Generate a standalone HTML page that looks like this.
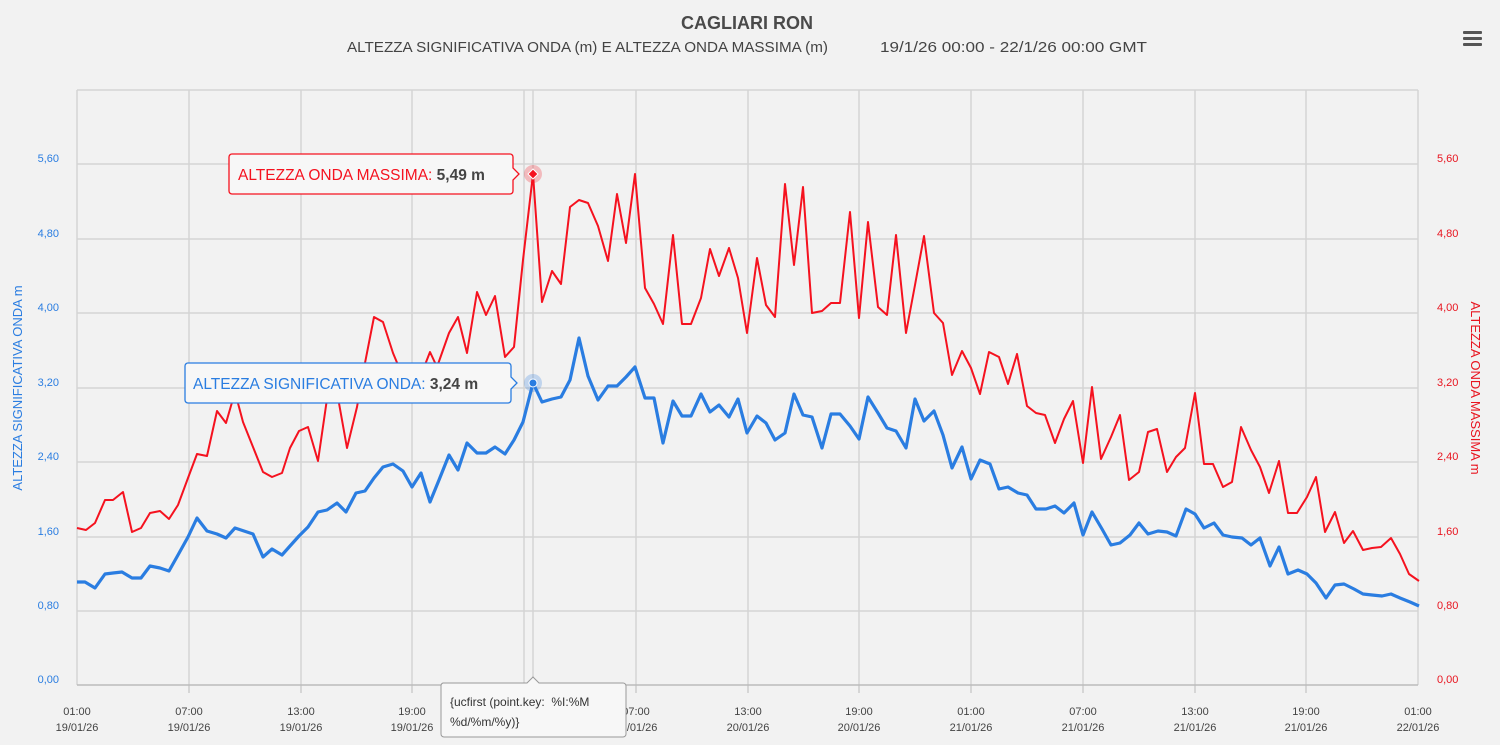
<!DOCTYPE html>
<html><head><meta charset="utf-8"><style>
body{margin:0;background:#f2f2f2;}
svg{display:block;font-family:"Liberation Sans",sans-serif;}
</style></head><body>
<svg width="1500" height="745" viewBox="0 0 1500 745">
<rect width="1500" height="745" fill="#f2f2f2"/>
<text x="747" y="29" text-anchor="middle" font-size="18" font-weight="bold" fill="#4a4a4a">CAGLIARI RON</text>
<text x="347" y="52" font-size="14.5" fill="#444" textLength="481" lengthAdjust="spacingAndGlyphs">ALTEZZA SIGNIFICATIVA ONDA (m) E ALTEZZA ONDA MASSIMA (m)</text>
<text x="880" y="52" font-size="14.5" fill="#444" textLength="267" lengthAdjust="spacingAndGlyphs">19/1/26 00:00 - 22/1/26 00:00 GMT</text>
<g fill="#555"><rect x="1463" y="31" width="19" height="3" rx="1"/><rect x="1463" y="37" width="19" height="3" rx="1"/><rect x="1463" y="43" width="19" height="3" rx="1"/></g>
<g stroke="#d4d4d4" stroke-width="1.5">
<line x1="77" y1="90" x2="1418" y2="90"/><line x1="77" y1="164" x2="1418" y2="164"/><line x1="77" y1="239" x2="1418" y2="239"/><line x1="77" y1="313" x2="1418" y2="313"/><line x1="77" y1="388" x2="1418" y2="388"/><line x1="77" y1="462" x2="1418" y2="462"/><line x1="77" y1="537" x2="1418" y2="537"/><line x1="77" y1="611" x2="1418" y2="611"/>
<line x1="77" y1="90" x2="77" y2="685"/><line x1="189" y1="90" x2="189" y2="685"/><line x1="301" y1="90" x2="301" y2="685"/><line x1="412" y1="90" x2="412" y2="685"/><line x1="524" y1="90" x2="524" y2="685"/><line x1="636" y1="90" x2="636" y2="685"/><line x1="748" y1="90" x2="748" y2="685"/><line x1="859" y1="90" x2="859" y2="685"/><line x1="971" y1="90" x2="971" y2="685"/><line x1="1083" y1="90" x2="1083" y2="685"/><line x1="1195" y1="90" x2="1195" y2="685"/><line x1="1306" y1="90" x2="1306" y2="685"/><line x1="1418" y1="90" x2="1418" y2="685"/>
<line x1="533" y1="90" x2="533" y2="685"/>
</g>
<line x1="77" y1="685" x2="1418" y2="685" stroke="#bbb" stroke-width="1.5"/>
<g font-size="11" fill="#2a7de1" text-anchor="end">
<text x="59" y="683">0,00</text><text x="59" y="609">0,80</text><text x="59" y="535">1,60</text><text x="59" y="460">2,40</text><text x="59" y="386">3,20</text><text x="59" y="311">4,00</text><text x="59" y="237">4,80</text><text x="59" y="162">5,60</text>
</g>
<g font-size="11" fill="#e8141f">
<text x="1437" y="683">0,00</text><text x="1437" y="609">0,80</text><text x="1437" y="535">1,60</text><text x="1437" y="460">2,40</text><text x="1437" y="386">3,20</text><text x="1437" y="311">4,00</text><text x="1437" y="237">4,80</text><text x="1437" y="162">5,60</text>
</g>
<text transform="translate(22,388) rotate(-90)" text-anchor="middle" font-size="13" fill="#2a7de1">ALTEZZA SIGNIFICATIVA ONDA m</text>
<text transform="translate(1471,388) rotate(90)" text-anchor="middle" font-size="13" fill="#e8141f">ALTEZZA ONDA MASSIMA m</text>
<g font-size="11" fill="#444" text-anchor="middle">
<text x="77" y="715">01:00</text><text x="77" y="731">19/01/26</text>
<text x="189" y="715">07:00</text><text x="189" y="731">19/01/26</text>
<text x="301" y="715">13:00</text><text x="301" y="731">19/01/26</text>
<text x="412" y="715">19:00</text><text x="412" y="731">19/01/26</text>
<text x="636" y="715">07:00</text><text x="636" y="731">20/01/26</text>
<text x="748" y="715">13:00</text><text x="748" y="731">20/01/26</text>
<text x="859" y="715">19:00</text><text x="859" y="731">20/01/26</text>
<text x="971" y="715">01:00</text><text x="971" y="731">21/01/26</text>
<text x="1083" y="715">07:00</text><text x="1083" y="731">21/01/26</text>
<text x="1195" y="715">13:00</text><text x="1195" y="731">21/01/26</text>
<text x="1306" y="715">19:00</text><text x="1306" y="731">21/01/26</text>
<text x="1418" y="715">01:00</text><text x="1418" y="731">22/01/26</text>
</g>
<g stroke="#bbb"><line x1="189" y1="685" x2="189" y2="693"/><line x1="301" y1="685" x2="301" y2="693"/><line x1="412" y1="685" x2="412" y2="693"/><line x1="524" y1="685" x2="524" y2="693"/><line x1="636" y1="685" x2="636" y2="693"/><line x1="748" y1="685" x2="748" y2="693"/><line x1="859" y1="685" x2="859" y2="693"/><line x1="971" y1="685" x2="971" y2="693"/><line x1="1083" y1="685" x2="1083" y2="693"/><line x1="1195" y1="685" x2="1195" y2="693"/><line x1="1306" y1="685" x2="1306" y2="693"/></g>
<polyline fill="none" stroke="#f5121f" stroke-width="2" stroke-linejoin="round" points="77,528 86,530 95,523 105,500 113,500 123,492 132,532 141,528 150,513 160,511 169,519 178,505 188,478 197,454 207,456 217,411 226,423 235,392 243,422 253,447 263,472 272,477 282,473 290,448 299,431 308,427 318,461 328,392 337,392 347,448 357,407 365,363 374,317 383,322 393,353 403,377 412,372 421,375 430,352 437,367 449,333 458,317 467,353 477,292 486,315 495,296 505,357 514,347 523,260 533,174 542,302 552,271 561,284 570,207 579,200 588,203 598,226 608,261 617,194 626,243 635,174 645,288 654,304 663,324 673,235 682,324 691,324 701,298 710,249 719,276 729,248 738,278 747,333 757,258 766,305 775,317 785,184 794,265 803,187 812,313 822,311 831,303 840,303 850,212 859,318 868,222 878,307 887,315 896,235 906,333 915,285 924,236 934,313 943,323 952,375 962,351 971,368 980,394 989,352 999,357 1008,384 1017,354 1027,406 1036,413 1045,415 1055,443 1064,419 1073,401 1083,463 1092,387 1101,459 1111,437 1120,415 1129,480 1139,472 1148,432 1157,429 1167,472 1176,457 1185,448 1195,393 1204,464 1213,464 1223,487 1232,482 1241,427 1251,450 1260,467 1269,493 1279,461 1288,513 1297,513 1307,497 1316,477 1325,532 1335,512 1344,543 1353,531 1363,550 1372,548 1381,547 1391,538 1400,554 1409,574 1419,581"/>
<polyline fill="none" stroke="#2a7de1" stroke-width="3.2" stroke-linejoin="round" points="77,582 85,582 95,588 105,574 113,573 122,572 132,578 141,578 150,566 160,568 169,571 178,555 188,537 197,518 207,531 217,534 226,538 235,528 244,531 253,534 263,557 272,549 282,555 290,546 299,536 308,527 318,512 327,510 337,503 346,512 356,493 365,491 374,478 383,467 393,464 403,471 412,487 421,473 430,502 439,480 449,455 458,470 467,443 477,453 486,453 495,447 505,454 514,440 523,422 533,383 542,402 552,399 561,397 570,380 579,338 588,376 598,400 608,386 617,386 626,377 635,367 645,398 654,398 663,443 673,401 682,416 691,416 701,394 710,412 719,405 729,417 738,399 747,433 757,416 766,423 775,440 785,433 794,394 803,415 812,417 822,448 831,414 840,414 850,426 859,439 868,397 878,413 887,428 896,431 906,448 915,399 924,421 934,411 943,435 952,468 962,447 971,479 980,460 990,464 999,489 1008,487 1018,493 1027,495 1036,509 1046,509 1055,506 1064,513 1074,503 1083,535 1092,512 1102,529 1111,545 1120,543 1130,535 1139,523 1148,534 1158,531 1167,532 1176,536 1186,509 1195,514 1204,528 1214,523 1223,535 1232,537 1242,538 1251,545 1260,538 1270,566 1279,547 1288,574 1298,570 1307,574 1316,583 1326,598 1335,585 1344,584 1354,589 1363,594 1372,595 1382,596 1391,594 1400,598 1410,602 1419,606"/>
<circle cx="533" cy="174" r="9" fill="#f5121f" fill-opacity="0.25"/>
<path d="M533,169 L538,174 L533,179 L528,174Z" fill="#f5121f" stroke="#fff" stroke-width="1"/>
<circle cx="533" cy="383" r="9" fill="#2a7de1" fill-opacity="0.25"/>
<circle cx="533" cy="383" r="4" fill="#2a7de1" stroke="#fff" stroke-width="1"/>
<g>
<path d="M232,154 H510 a3,3 0 0 1 3,3 V168 L519,174 L513,180 V191 a3,3 0 0 1 -3,3 H232 a3,3 0 0 1 -3,-3 V157 a3,3 0 0 1 3,-3Z" fill="#f7f7f7" stroke="#f5121f" stroke-width="1.3"/>
<text x="238" y="180" font-size="15.5" fill="#f5121f">ALTEZZA ONDA MASSIMA: <tspan fill="#444" font-weight="bold">5,49 m</tspan></text>
<path d="M188,363 H508 a3,3 0 0 1 3,3 V377 L517,383 L511,389 V400 a3,3 0 0 1 -3,3 H188 a3,3 0 0 1 -3,-3 V366 a3,3 0 0 1 3,-3Z" fill="#f7f7f7" stroke="#2a7de1" stroke-width="1.3"/>
<text x="193" y="389" font-size="15.5" fill="#2a7de1">ALTEZZA SIGNIFICATIVA ONDA: <tspan fill="#444" font-weight="bold">3,24 m</tspan></text>
<path d="M443,683 H527 L533,677 L539,683 H623 a3,3 0 0 1 3,3 V734 a3,3 0 0 1 -3,3 H444 a3,3 0 0 1 -3,-3 V686 a3,3 0 0 1 2,-3Z" fill="#f7f7f7" stroke="#999" stroke-width="1"/>
<text x="450" y="706" font-size="12" fill="#333" xml:space="preserve">{ucfirst (point.key:  %I:%M</text>
<text x="450" y="726" font-size="12" fill="#333">%d/%m/%y)}</text>
</g>
</svg>
</body></html>
